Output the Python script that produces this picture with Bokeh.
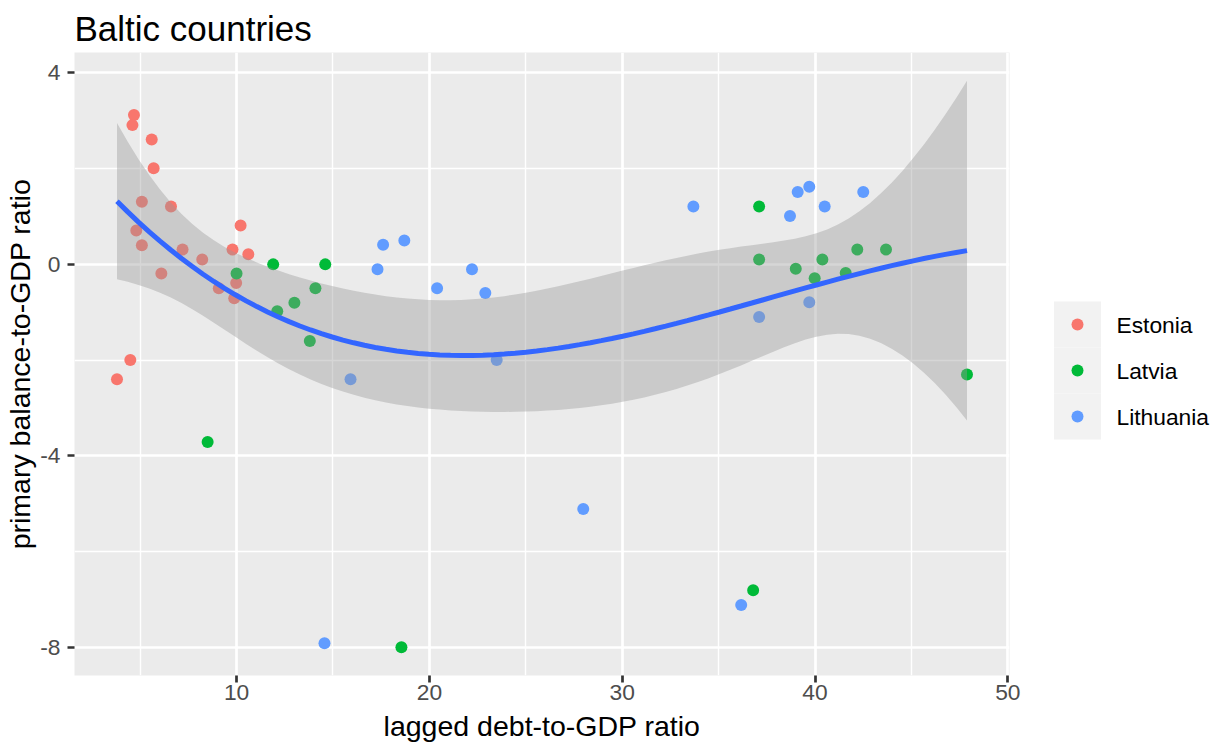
import numpy as np
from bokeh.plotting import figure
from bokeh.models import FixedTicker, Range1d, ColumnDataSource
from bokeh.layouts import row
from bokeh.embed import file_html
from bokeh.resources import INLINE
from bokeh.core.properties import value

# ---------------- data ----------------
countries = ["Estonia", "Latvia", "Lithuania"]
colors = ["#F8766D", "#00BA38", "#619CFF"]

estonia_debt = [4.68, 4.60, 5.60, 5.70, 5.09, 6.60, 4.80, 5.09, 6.10, 7.20,
                8.22, 10.21, 9.79, 10.61, 9.08, 9.98, 9.88, 4.49, 3.80]
estonia_pb = [3.12, 2.91, 2.61, 2.01, 1.31, 1.21, 0.71, 0.40, -0.19, 0.31,
              0.10, 0.81, 0.31, 0.21, -0.50, -0.39, -0.71, -2.00, -2.40]

latvia_debt = [10.00, 11.90, 14.60, 12.11, 13.00, 14.09, 13.80, 8.50, 18.55, 37.10,
               37.10, 39.00, 39.98, 40.38, 41.59, 42.19, 43.68, 36.79, 47.88]
latvia_pb = [-0.19, 0.00, 0.00, -0.98, -0.80, -0.50, -1.60, -3.71, -8.00, 1.21,
             0.10, -0.09, -0.29, 0.10, -0.18, 0.31, 0.31, -6.81, -2.30]

lithuania_debt = [17.60, 18.70, 17.31, 20.40, 22.21, 22.90, 23.49, 15.91, 33.69, 39.10,
                  39.70, 38.70, 40.50, 42.50, 39.70, 37.10, 27.98, 36.17, 14.56]
lithuania_pb = [0.41, 0.50, -0.10, -0.50, -0.10, -0.60, -2.00, -2.40, 1.21, 1.51,
                1.62, 1.01, 1.21, 1.51, -0.79, -1.10, -5.11, -7.12, -7.92]

x_ticks = [10, 20, 30, 40, 50]
x_minor = [5, 15, 25, 35, 45]
y_ticks = [-8, -4, 0, 4]
y_minor = [-6, -2, 2]

debts = [estonia_debt, latvia_debt, lithuania_debt]
balances = [estonia_pb, latvia_pb, lithuania_pb]

# ---------------- smoother: cubic least-squares fit with 95% band ----------------
X_all = np.concatenate([np.asarray(d, float) for d in debts])
Y_all = np.concatenate([np.asarray(b, float) for b in balances])
n = len(X_all)
xc = X_all.mean()


def design(x):
    u = (np.asarray(x) - xc) / 10.0
    return np.column_stack([np.ones(len(u)), u, u ** 2, u ** 3])


grid = np.linspace(X_all.min(), X_all.max(), 80)
Xd = design(X_all)
XtX_inv = np.linalg.inv(Xd.T @ Xd)
beta = XtX_inv @ Xd.T @ Y_all
resid = Y_all - Xd @ beta
dfr = n - Xd.shape[1]
s = np.sqrt(np.sum(resid ** 2) / dfr)
Xg = design(grid)
fit = Xg @ beta
se = s * np.sqrt(np.einsum("ij,jk,ik->i", Xg, XtX_inv, Xg))
z = 1.959963985
tq = (z + (z ** 3 + z) / (4 * dfr) + (5 * z ** 5 + 16 * z ** 3 + 3 * z) / (96 * dfr ** 2)
      + (3 * z ** 7 + 19 * z ** 5 + 17 * z ** 3 - 15 * z) / (384 * dfr ** 3))
lower = fit - tq * se
upper = fit + tq * se

# ---------------- ranges (ggplot 5% expansion) ----------------
xmin, xmax = X_all.min(), X_all.max()
ymin = min(Y_all.min(), lower.min())
ymax = max(Y_all.max(), upper.max())
xr = Range1d(xmin - 0.05 * (xmax - xmin), xmax + 0.05 * (xmax - xmin))
yr = Range1d(ymin - 0.05 * (ymax - ymin), ymax + 0.05 * (ymax - ymin))

FONT = "Liberation Sans"
W_MAIN, W_LEG, H = 1030, 180, 744
B_TOP, B_BOTTOM = 52, 69

p = figure(width=W_MAIN, height=H, x_range=xr, y_range=yr,
           output_backend="svg", toolbar_location=None,
           min_border_left=74, min_border_right=21, min_border_top=B_TOP, min_border_bottom=B_BOTTOM)
p.background_fill_color = "#EBEBEB"
p.border_fill_color = "white"
p.outline_line_color = None

p.title.text = "Baltic countries"
p.title.text_font = FONT
p.title.text_font_size = "35px"
p.title.text_font_style = "normal"
p.title.text_color = "black"
p.title.align = "left"
p.title.vertical_align = "bottom"
p.title.standoff = 9
p.title.offset = 0

p.xaxis.ticker = FixedTicker(ticks=x_ticks, minor_ticks=x_minor)
p.yaxis.ticker = FixedTicker(ticks=y_ticks, minor_ticks=y_minor)
p.yaxis.major_label_overrides = {t: str(t) for t in y_ticks}
for ax in (p.xaxis, p.yaxis):
    ax.axis_line_color = None
    ax.major_tick_line_color = "#333333"
    ax.major_tick_line_width = 2.7
    ax.major_tick_out = 7
    ax.major_tick_in = 0
    ax.minor_tick_line_color = None
    ax.major_label_text_font = FONT
    ax.major_label_text_font_size = "22.8px"
    ax.major_label_text_color = "#4D4D4D"
    ax.axis_label_text_font = FONT
    ax.axis_label_text_font_size = "28.5px"
    ax.axis_label_text_font_style = "normal"
    ax.axis_label_text_color = "black"
p.xaxis.axis_label = "lagged debt-to-GDP ratio"
p.yaxis.axis_label = "primary balance-to-GDP ratio"
p.xaxis.major_label_standoff = 2
p.yaxis.major_label_standoff = 7
p.xaxis.axis_label_standoff = 7
p.yaxis.axis_label_standoff = 1

for g in (p.xgrid, p.ygrid):
    g.grid_line_color = "white"
    g.grid_line_width = 2.7
    g.minor_grid_line_color = "white"
    g.minor_grid_line_width = 1.4

for name, c, xs, ys in zip(countries, colors, debts, balances):
    p.scatter(x=xs, y=ys, size=12, fill_color=c, line_color=None)

p.varea(x=grid, y1=lower, y2=upper, fill_color="#999999", fill_alpha=0.4)
p.line(x=grid, y=fit, line_color="#3366FF", line_width=5)

# ---------------- legend panel (ggplot style keys), page-pixel coordinates ----------------
leg = figure(width=W_LEG, height=H, x_range=Range1d(W_MAIN, W_MAIN + W_LEG),
             y_range=Range1d(H - B_BOTTOM, B_TOP),
             output_backend="svg", toolbar_location=None,
             min_border_left=0, min_border_right=0, min_border_top=B_TOP, min_border_bottom=B_BOTTOM)
leg.axis.visible = False
leg.grid.visible = False
leg.outline_line_color = None
leg.background_fill_color = "white"
leg.border_fill_color = "white"

key_x = 1077
key_size = 46
key_top = 301
idx = np.arange(len(countries))
key_y = key_top + key_size / 2 + idx * key_size
src = ColumnDataSource(dict(x=[key_x] * len(countries), y=list(key_y),
                            color=colors, label=countries, tx=[1116] * len(countries)))
leg.rect(x="x", y="y", width=47, height=key_size, fill_color="#F2F2F2", line_color=None, source=src)
leg.scatter(x="x", y="y", size=12, fill_color="color", line_color=None, source=src)
leg.text(x="tx", y="y", text="label", text_font=value(FONT), text_font_size="22.8px",
         text_baseline="middle", text_align="left", text_color="black", source=src)

layout = row(p, leg)
open("out.html", "w").write(file_html(layout, INLINE))
